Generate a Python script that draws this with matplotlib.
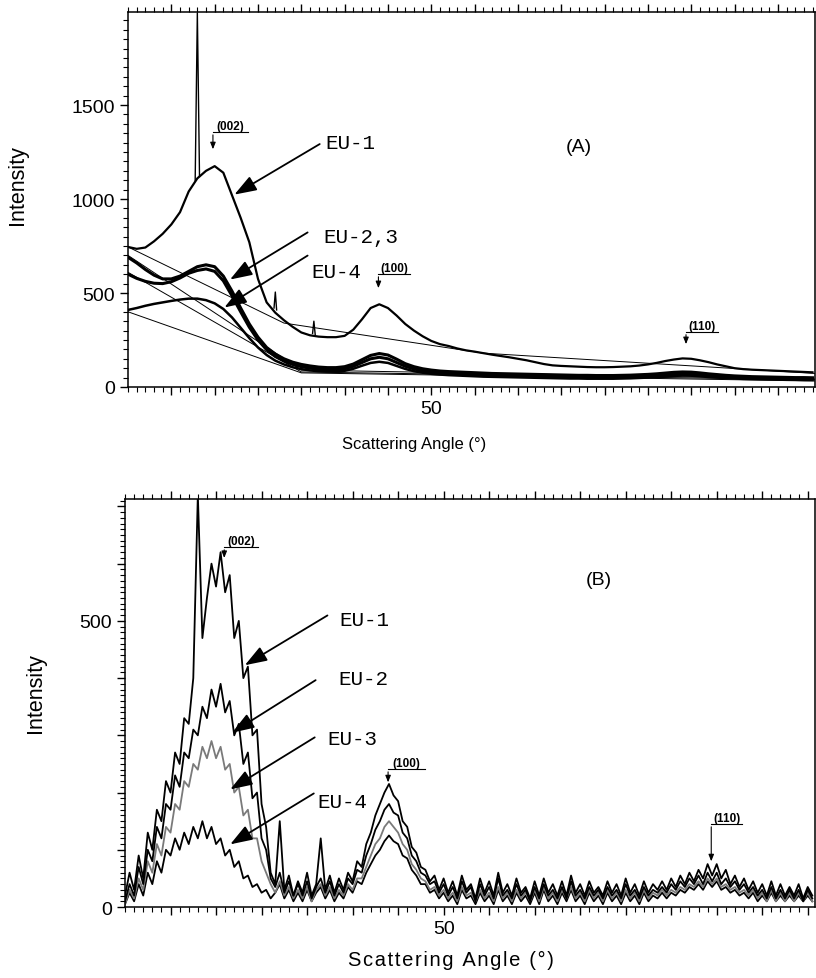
import numpy as np
import matplotlib
matplotlib.use("Agg")
import matplotlib.pyplot as plt
from matplotlib.ticker import MultipleLocator, FixedLocator, FuncFormatter

# ---- panel A: intensity read at 1 deg steps, 15..94 deg ----
angle_a = np.arange(15, 95)

eu1_a = [745, 735, 742, 775, 815, 865, 930, 1040, 1110, 1150,
         1175, 1140, 1020, 900, 770, 575, 450, 395, 355, 320,
         290, 275, 268, 265, 265, 272, 305, 360, 420, 440,
         420, 380, 335, 300, 270, 245, 228, 218, 205, 195,
         188, 180, 172, 165, 158, 150, 142, 132, 122, 115,
         112, 110, 108, 106, 105, 105, 106, 108, 110, 114,
         120, 128, 138, 146, 152, 150, 142, 132, 120, 110,
         100, 95, 92, 90, 88, 86, 84, 82, 80, 78]
eu2_a = [690, 660, 625, 595, 575, 575, 590, 615, 640, 650,
         640, 590, 510, 420, 335, 265, 210, 175, 150, 132,
         120, 112, 106, 103, 103, 108, 122, 145, 168, 178,
         170, 148, 124, 108, 97, 90, 85, 82, 80, 78,
         76, 74, 72, 71, 70, 69, 68, 67, 66, 65,
         64, 63, 62, 62, 61, 61, 61, 62, 63, 65,
         67, 70, 74, 78, 80, 79, 75, 70, 66, 62,
         59, 57, 55, 54, 53, 52, 51, 50, 50, 49]
eu3_a = [600, 578, 562, 552, 550, 560, 580, 605, 620, 628,
         615, 565, 485, 400, 318, 250, 198, 162, 138, 120,
         108, 100, 95, 92, 92, 97, 110, 130, 150, 158,
         150, 130, 110, 96, 86, 80, 76, 73, 71, 69,
         67, 65, 63, 62, 61, 60, 59, 58, 57, 56,
         55, 54, 54, 53, 53, 53, 53, 54, 55, 57,
         59, 62, 65, 68, 70, 69, 66, 62, 58, 55,
         52, 50, 49, 48, 47, 46, 45, 45, 44, 44]
eu4_a = [410, 420, 432, 442, 450, 458, 465, 470, 470, 462,
         445, 415, 370, 315, 260, 210, 170, 140, 120, 105,
         95, 88, 84, 82, 82, 86, 97, 113, 128, 134,
         128, 112, 96, 84, 76, 70, 66, 63, 61, 59,
         57, 55, 54, 53, 52, 51, 50, 49, 48, 47,
         46, 45, 45, 44, 44, 44, 44, 45, 46, 48,
         50, 53, 56, 59, 61, 60, 57, 53, 50, 47,
         45, 43, 42, 41, 40, 39, 38, 38, 37, 37]

# narrow reflections on EU-1 (nan separates them)
spike_a_x = [22.75, 23.0, 23.25, np.nan, 31.85, 32.0, 32.15, np.nan, 36.3, 36.45, 36.6]
spike_a_y = [1100, 1990, 1120, np.nan, 420, 505, 410, np.nan, 285, 350, 280]

# straight background lines
bg_a = [([15, 33, 56, 94.3], [745, 340, 180, 72]),
        ([15, 35, 94.3], [700, 90, 42]),
        ([15, 35, 94.3], [610, 80, 38]),
        ([15, 35, 94.3], [400, 75, 32])]

# ---- panel B: background-subtracted, 0.5 deg steps, 15..90.5 deg ----
angle_b = np.arange(15, 91, 0.5)

eu1_b = [20, 60, 30, 90, 50, 130, 100, 170, 150, 220,
         200, 270, 250, 330, 320, 400, 720, 470, 540, 600,
         560, 620, 550, 580, 470, 500, 400, 420, 300, 310,
         180, 140, 60, 40, 150, 30, 55, 20, 45, 25,
         60, 20, 40, 120, 30, 55, 25, 50, 30, 60,
         45, 80, 70, 110, 130, 160, 180, 200, 215, 195,
         185, 150, 140, 105, 95, 70, 65, 45, 55, 30,
         50, 25, 45, 20, 55, 30, 40, 15, 50, 25,
         45, 20, 60, 25, 40, 20, 50, 25, 35, 15,
         45, 20, 50, 25, 40, 20, 45, 20, 55, 25,
         40, 20, 45, 25, 35, 20, 45, 25, 40, 20,
         50, 25, 40, 20, 45, 25, 40, 30, 45, 30,
         50, 35, 55, 40, 60, 45, 65, 50, 75, 55,
         75, 50, 65, 40, 55, 35, 50, 30, 45, 25,
         40, 20, 45, 20, 40, 20, 35, 20, 40, 15,
         35, 20]
eu2_b = [10, 40, 20, 70, 40, 100, 80, 140, 120, 180,
         170, 230, 210, 270, 260, 310, 300, 350, 330, 380,
         350, 390, 340, 360, 300, 320, 250, 270, 190, 200,
         120, 100, 50, 35, 60, 25, 45, 20, 40, 20,
         45, 15, 35, 50, 25, 45, 20, 40, 25, 50,
         40, 65, 60, 90, 110, 135, 150, 170, 180, 165,
         160, 130, 120, 90, 80, 60, 55, 40, 45, 25,
         40, 20, 35, 15, 45, 25, 35, 10, 40, 20,
         35, 15, 50, 20, 30, 15, 40, 20, 30, 10,
         35, 15, 40, 20, 30, 15, 35, 15, 45, 20,
         30, 15, 35, 20, 30, 15, 35, 20, 30, 15,
         40, 20, 30, 15, 35, 20, 30, 25, 35, 25,
         40, 30, 45, 35, 50, 40, 55, 40, 60, 45,
         60, 40, 50, 35, 45, 30, 40, 25, 35, 20,
         30, 15, 35, 15, 30, 15, 30, 15, 30, 10,
         30, 15]
eu3_b = [5, 30, 15, 50, 30, 80, 60, 110, 90, 140,
         130, 180, 170, 220, 210, 250, 240, 280, 260, 290,
         260, 280, 240, 250, 200, 210, 160, 170, 120, 120,
         80, 60, 40, 25, 45, 20, 35, 15, 30, 15,
         35, 10, 30, 40, 20, 35, 15, 30, 20, 40,
         30, 50, 50, 70, 90, 110, 120, 140, 150, 140,
         130, 110, 100, 75, 65, 50, 45, 30, 35, 20,
         30, 15, 25, 10, 35, 20, 25, 10, 30, 15,
         25, 10, 35, 15, 25, 10, 30, 15, 25, 10,
         30, 10, 35, 15, 25, 10, 30, 15, 35, 15,
         25, 10, 30, 15, 25, 10, 30, 15, 25, 10,
         30, 15, 25, 10, 30, 15, 25, 20, 30, 20,
         30, 25, 35, 30, 40, 35, 45, 35, 50, 40,
         50, 35, 40, 30, 35, 25, 30, 20, 30, 15,
         25, 10, 30, 10, 25, 10, 25, 10, 25, 10,
         25, 10]
eu4_b = [5, 25, 10, 40, 20, 60, 40, 80, 60, 100,
         90, 120, 100, 130, 110, 140, 120, 150, 120, 140,
         110, 120, 90, 100, 70, 80, 50, 55, 35, 40,
         25, 30, 15, 25, 40, 15, 30, 10, 25, 10,
         30, 10, 25, 35, 15, 30, 10, 25, 15, 35,
         25, 45, 40, 60, 75, 90, 100, 115, 125, 115,
         110, 90, 85, 65, 55, 40, 40, 25, 30, 15,
         25, 10, 20, 5, 30, 15, 20, 5, 25, 10,
         20, 5, 30, 10, 20, 5, 25, 10, 20, 5,
         25, 5, 30, 10, 20, 5, 25, 10, 30, 10,
         20, 5, 25, 10, 20, 5, 25, 10, 20, 5,
         25, 10, 20, 5, 25, 10, 20, 15, 25, 15,
         25, 20, 30, 25, 35, 30, 40, 30, 45, 35,
         45, 30, 35, 25, 30, 20, 25, 15, 25, 10,
         20, 10, 25, 10, 20, 10, 20, 10, 20, 10,
         20, 10]

SANS = ["Liberation Sans", "DejaVu Sans"]
MONO = "Liberation Mono"

fig = plt.figure(figsize=(8.16, 9.79), dpi=100)
ax_a = fig.add_axes([0.1569, 0.6037, 0.842, 0.383])
ax_b = fig.add_axes([0.1532, 0.0725, 0.8456, 0.4168])


def style_axes(ax, xmax, ymax, ymajor, yminor):
    ax.set_xlim(15, xmax)
    ax.set_ylim(0, ymax)
    ax.xaxis.set_major_locator(FixedLocator(np.arange(20, 95, 5)))
    ax.xaxis.set_minor_locator(MultipleLocator(1))
    ax.xaxis.set_major_formatter(FuncFormatter(
        lambda v, p: "50" if abs(v - 50) < 0.01 else ""))
    ax.yaxis.set_major_locator(MultipleLocator(ymajor))
    ax.yaxis.set_minor_locator(MultipleLocator(yminor))
    ax.tick_params(axis="both", which="major", direction="out", length=6, width=1,
                   labelsize=14, top=True, right=False)
    ax.tick_params(axis="both", which="minor", direction="out", length=3.5, width=0.8,
                   top=True, right=False)
    for lab in ax.get_xticklabels() + ax.get_yticklabels():
        lab.set_fontfamily(SANS)
    for s in ax.spines.values():
        s.set_linewidth(1.1)


def hkl(ax, text, x0, x1, y_line, y_tip):
    ax.plot([x0, x1], [y_line, y_line], color="k", lw=0.8)
    ax.annotate("", xy=(x0, y_tip), xytext=(x0, y_line),
                arrowprops=dict(arrowstyle="-|>,head_length=0.5,head_width=0.2",
                                mutation_scale=8, lw=0.8, color="k"))
    ax.text((x0 + x1) / 2, y_line, text, ha="center", va="bottom",
            fontsize=8.5, fontweight="bold", family=SANS)


def label(ax, text, text_xy, start, tip):
    ax.annotate("", xy=tip, xytext=start,
                arrowprops=dict(arrowstyle="-|>,head_length=0.9,head_width=0.32",
                                mutation_scale=15, lw=1.3, color="k"))
    ax.text(text_xy[0], text_xy[1], text, ha="left", va="center",
            fontsize=15, family=MONO)


# ---- panel A ----
for xs, ys in bg_a:
    ax_a.plot(xs, ys, color="k", lw=0.7)
ax_a.plot(angle_a, eu4_a, color="k", lw=1.8)
ax_a.plot(angle_a, eu3_a, color="k", lw=2.2)
ax_a.plot(angle_a, eu2_a, color="k", lw=2.2)
ax_a.plot(angle_a, eu1_a, color="k", lw=1.6)
ax_a.plot(spike_a_x, spike_a_y, color="k", lw=1.0)
style_axes(ax_a, 94.3, 1995, 500, 50)
ax_a.set_xlabel("Scattering Angle (°)", fontsize=12, family=SANS)
ax_a.xaxis.set_label_coords(0.417, -0.13)
ax_a.set_ylabel("Intensity", fontsize=15.5, family=SANS)
ax_a.yaxis.set_label_coords(-0.145, 0.54)

hkl(ax_a, "(002)", 24.8, 28.9, 1356, 1250)
hkl(ax_a, "(100)", 43.9, 47.6, 601, 511)
hkl(ax_a, "(110)", 79.4, 83.1, 293, 213)
label(ax_a, "EU-1", (37.8, 1303), (37.4, 1300), (27.0, 1016))
label(ax_a, "EU-2,3", (37.6, 800), (36.0, 830), (26.5, 564))
label(ax_a, "EU-4", (36.2, 617), (36.0, 707), (25.85, 415))
ax_a.text(65.5, 1282, "(A)", fontsize=14, family=SANS, ha="left", va="center")

# ---- panel B ----
ax_b.plot(angle_b, eu4_b, color="k", lw=1.3)
ax_b.plot(angle_b, eu3_b, color="#7a7a7a", lw=1.3)
ax_b.plot(angle_b, eu2_b, color="k", lw=1.3)
ax_b.plot(angle_b, eu1_b, color="k", lw=1.3)
style_axes(ax_b, 90.8, 713, 100, 10)
ax_b.yaxis.set_major_formatter(FuncFormatter(
    lambda v, p: "%d" % v if v in (0, 500) else ""))
ax_b.set_xlabel("\u200a".join("Scattering Angle (°)"), fontsize=14.5, family=SANS)
ax_b.xaxis.set_label_coords(0.472, -0.105)
ax_b.set_ylabel("Intensity", fontsize=15.5, family=SANS)
ax_b.yaxis.set_label_coords(-0.115, 0.527)

hkl(ax_b, "(002)", 25.9, 29.6, 629, 605)
hkl(ax_b, "(100)", 43.9, 48.0, 241, 213)
hkl(ax_b, "(110)", 79.4, 82.8, 145, 75)
label(ax_b, "EU-1", (38.6, 503), (37.5, 512), (27.9, 420))
label(ax_b, "EU-2", (38.4, 399), (36.2, 399), (26.5, 302))
label(ax_b, "EU-3", (37.2, 295), (36.1, 299), (26.3, 203))
label(ax_b, "EU-4", (36.1, 184), (36.0, 201), (26.3, 107))
ax_b.text(65.6, 573, "(B)", fontsize=14, family=SANS, ha="left", va="center")

fig.savefig("out.png", dpi=100)
